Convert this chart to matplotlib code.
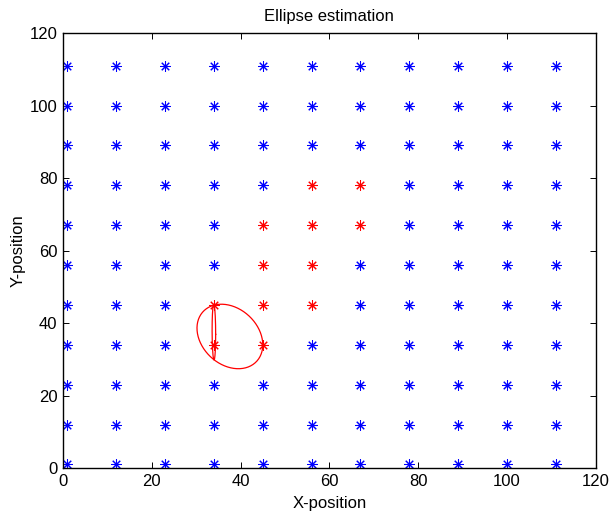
import numpy as np
import matplotlib
matplotlib.use("Agg")
import matplotlib.pyplot as plt

plt.rcParams['font.family'] = ['Liberation Sans', 'DejaVu Sans']

# grid of sensor positions
grid_vals = [1, 12, 23, 34, 45, 56, 67, 78, 89, 100, 111]

# detected (red) positions
red_x = [34, 34, 45, 45, 45, 45, 56, 56, 56, 56, 67, 67]
red_y = [45, 34, 34, 45, 56, 67, 45, 56, 67, 78, 67, 78]

# ellipses: center, covariance-like shape matrix
big_center = [37.6, 36.3]
big_shape = [[54.8, -17.0], [-17.0, 79.2]]
thin_center = [34.0, 37.5]
thin_shape = [[0.16, -0.25], [-0.25, 59.0]]


def ellipse_pts(center, shape, n=200):
    t = np.linspace(0, 2 * np.pi, n)
    L = np.linalg.cholesky(np.array(shape))
    d = L @ np.vstack([np.cos(t), np.sin(t)])
    return center[0] + d[0], center[1] + d[1]


fig = plt.figure(figsize=(6.10, 5.18), dpi=100)
ax = fig.add_axes([0.103, 0.0965, 0.874, 0.8395])

red_set = set(zip(red_x, red_y))
blue_pts = [(x, y) for y in grid_vals for x in grid_vals if (x, y) not in red_set]
bx = [p[0] for p in blue_pts]
by = [p[1] for p in blue_pts]

ast = (8, 2, 0)
ax.plot(bx, by, linestyle='none', marker=ast, color='blue',
        markersize=7.5, mew=0.75)
ax.plot(red_x, red_y, linestyle='none', marker=ast, color='red',
        markersize=7.5, mew=0.75)

ex, ey = ellipse_pts(big_center, big_shape)
ax.plot(ex, ey, color='red', lw=0.9)
ex, ey = ellipse_pts(thin_center, thin_shape)
ax.plot(ex, ey, color='red', lw=0.9)

ax.set_xlim(0, 120)
ax.set_ylim(0, 120)
ax.set_xticks(range(0, 121, 20))
ax.set_yticks(range(0, 121, 20))
ax.tick_params(direction='in', top=True, right=True, labelsize=12,
               length=4, width=0.7, pad=4)
for s in ax.spines.values():
    s.set_linewidth(1.0)

ax.set_title('Ellipse estimation', fontsize=12, pad=9)
ax.set_xlabel('X-position', fontsize=12, labelpad=5)
ax.set_ylabel('Y-position', fontsize=12, labelpad=3)

fig.savefig('out.png', dpi=100)
